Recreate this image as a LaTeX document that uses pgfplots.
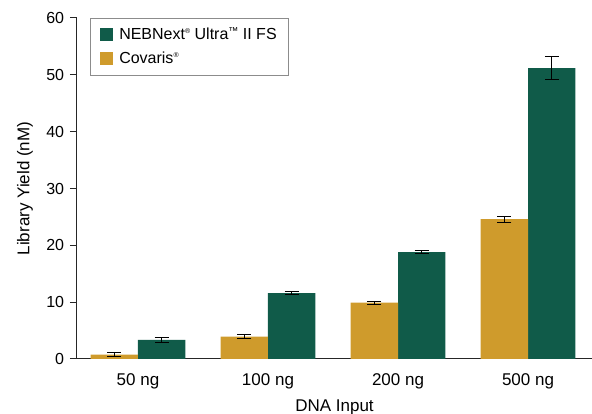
\documentclass[border=0pt]{standalone}
\usepackage{fontspec}
\setmainfont{Liberation Sans}
\usepackage{pgfplots}
\pgfplotsset{compat=1.18}
\definecolor{nebgreen}{RGB}{16,91,73}
\definecolor{covgold}{RGB}{207,155,44}
\newcommand{\reg}{\raisebox{0.75ex}{\fontsize{7}{7}\selectfont ®}}
\newcommand{\tm}{\raisebox{0.6ex}{\fontsize{10}{10}\selectfont ™}}
\begin{document}
\fontsize{17}{20}\selectfont
\begin{tikzpicture}
\begin{axis}[
  scale only axis,
  width=515pt, height=341pt,
  xmin=-0.469, xmax=3.492,
  ymin=0, ymax=60,
  axis lines*=left,
  axis line style={black!85, line width=1pt},
  ytick={0,10,...,60},
  xtick={0,1,2,3},
  xticklabels={50 ng,100 ng,200 ng,500 ng},
  xtick style={draw=none},
  ytick style={black!85, line width=1pt},
  tick align=outside,
  major tick length=7pt,
  yticklabel style={font=\fontsize{16}{19}\selectfont},
  xticklabel style={yshift=-2pt},
  /pgf/number format/assume math mode=true,
  xlabel={DNA Input},
  xlabel style={yshift=1pt},
  ylabel={Library Yield (nM)},
  ylabel style={yshift=2pt},
  ybar,
  bar width=0.365,
  legend cell align=left,
  legend style={draw=black!45, line width=0.8pt, at={(0.025,1)}, anchor=north west,
    font=\fontsize{16}{19}\selectfont,
    inner xsep=10pt, inner ysep=7pt, row sep=6pt,
    /tikz/every odd column/.append style={column sep=4pt}},
  legend image code/.code={\fill[#1] (0pt,-6.5pt) rectangle (13pt,6.5pt);},
  error bars/y dir=both,
  error bars/y explicit,
  error bars/error bar style={black, line width=1pt},
  error bars/error mark options={rotate=90, mark size=7pt, line width=1pt, black},
]
\addplot[fill=nebgreen, draw=none, bar shift=0.1825]
  coordinates {(0,3.35) +- (0,0.4) (1,11.6) +- (0,0.25) (2,18.8) +- (0,0.25) (3,51.2) +- (0,2.0)};
\addlegendentry{NEBNext\reg{} Ultra\tm{} II FS}
\addplot[fill=covgold, draw=none, bar shift=-0.1825]
  coordinates {(0,0.76) +- (0,0.3) (1,3.93) +- (0,0.3) (2,9.9) +- (0,0.3) (3,24.6) +- (0,0.5)};
\addlegendentry{Covaris\reg}
\coordinate (bl) at (rel axis cs:0,0);
\coordinate (tr) at (rel axis cs:1,1);
\end{axis}
\pgfresetboundingbox
\path ([xshift=-77pt,yshift=-55pt]bl) rectangle ([yshift=18pt]tr);
\end{tikzpicture}
\end{document}
